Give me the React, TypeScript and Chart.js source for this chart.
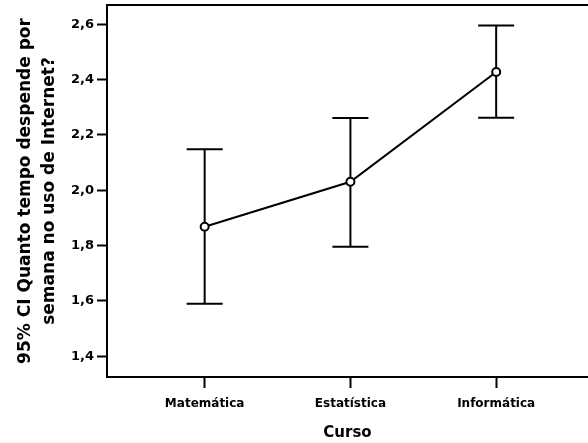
import React, { useEffect, useRef } from "react";
import { Chart, registerables } from "chart.js";

Chart.register(...registerables);

const categories = ["Matemática", "Estatística", "Informática"];
const means = [1.868, 2.031, 2.428];
const lowerCI = [1.59, 1.796, 2.262];
const upperCI = [2.148, 2.261, 2.596];
const yTicks = [1.4, 1.6, 1.8, 2.0, 2.2, 2.4, 2.6];
const xTicks = [0, 1, 2];
const yTitle = ["95% CI Quanto tempo despende por", "semana no uso de Internet?"];
const xTitle = "Curso";

const FONT = "'DejaVu Sans', 'Liberation Sans', Arial, sans-serif";

const errorBarPlugin = {
  id: "errorBars",
  beforeDatasetsDraw(chart: any) {
    const { ctx, scales } = chart;
    const x = scales.x;
    const y = scales.y;
    ctx.save();
    ctx.strokeStyle = "#000";
    ctx.lineWidth = 2;
    const cap = 18;
    for (let i = 0; i < means.length; i++) {
      const px = x.getPixelForValue(i);
      const pl = y.getPixelForValue(lowerCI[i]);
      const pu = y.getPixelForValue(upperCI[i]);
      ctx.beginPath();
      ctx.moveTo(px, pl);
      ctx.lineTo(px, pu);
      ctx.moveTo(px - cap, pl);
      ctx.lineTo(px + cap, pl);
      ctx.moveTo(px - cap, pu);
      ctx.lineTo(px + cap, pu);
      ctx.stroke();
    }
    ctx.restore();
  },
  afterDatasetsDraw(chart: any) {
    const { ctx, scales } = chart;
    ctx.save();
    ctx.strokeStyle = "#000";
    ctx.fillStyle = "#fff";
    ctx.lineWidth = 2;
    for (let i = 0; i < means.length; i++) {
      const px = scales.x.getPixelForValue(i);
      const py = scales.y.getPixelForValue(means[i]);
      ctx.beginPath();
      ctx.arc(px, py, 4, 0, Math.PI * 2);
      ctx.fill();
      ctx.stroke();
    }
    ctx.restore();
  },
  afterDraw(chart: any) {
    const { ctx, chartArea } = chart;
    ctx.save();
    ctx.strokeStyle = "#000";
    ctx.lineWidth = 2;
    ctx.beginPath();
    ctx.moveTo(chartArea.left, chartArea.top);
    ctx.lineTo(chart.width, chartArea.top);
    ctx.stroke();
    ctx.restore();
  },
};

export default function App() {
  const ref = useRef<HTMLCanvasElement | null>(null);
  useEffect(() => {
    if (!ref.current) return;
    const chart = new Chart(ref.current, {
      type: "line",
      data: {
        datasets: [
          {
            data: means.map((m, i) => ({ x: i, y: m })),
            borderColor: "#000",
            borderWidth: 2,
            pointRadius: 0,
            pointHoverRadius: 0,
            pointBorderWidth: 0,
            tension: 0,
          },
        ],
      },
      plugins: [errorBarPlugin],
      options: {
        responsive: false,
        animation: false,
        layout: { padding: { top: 5, right: 0, left: 0, bottom: 0 } },
        plugins: { legend: { display: false }, tooltip: { enabled: false } },
        scales: {
          x: {
            type: "linear",
            min: -0.67,
            max: 2.63,
            afterBuildTicks: (s: any) => {
              s.ticks = xTicks.map((v) => ({ value: v }));
            },
            afterFit: (s: any) => {
              s.height = 66;
              s.paddingLeft = 0;
              s.paddingRight = 0;
            },
            ticks: {
              autoSkip: false,
              maxRotation: 0,
              padding: 9,
              color: "#000",
              font: { family: FONT, size: 12, weight: "bold" },
              callback: (v: any) => categories[v as number] ?? "",
            },
            grid: {
              display: true,
              drawOnChartArea: false,
              drawTicks: true,
              tickLength: 11,
              tickWidth: 2,
              tickColor: "#000",
            },
            border: { display: true, color: "#000", width: 2 },
            title: {
              display: true,
              text: xTitle,
              color: "#000",
              font: { family: FONT, size: 15, weight: "bold" },
              padding: { top: 0, bottom: 1 },
            },
          },
          y: {
            type: "linear",
            min: 1.325,
            max: 2.67,
            afterBuildTicks: (s: any) => {
              s.ticks = yTicks.map((v) => ({ value: v }));
            },
            afterFit: (s: any) => {
              s.width = 107;
              s.paddingTop = 0;
              s.paddingBottom = 0;
            },
            ticks: {
              padding: 3,
              color: "#000",
              font: { family: FONT, size: 13, weight: "bold" },
              callback: (v: any) => Number(v).toFixed(1).replace(".", ","),
            },
            grid: {
              display: true,
              drawOnChartArea: false,
              drawTicks: true,
              tickLength: 10,
              tickWidth: 2,
              tickColor: "#000",
            },
            border: { display: true, color: "#000", width: 2 },
            title: {
              display: true,
              text: yTitle,
              color: "#000",
              font: { family: FONT, size: 17, weight: "bold", lineHeight: 1.4 },
              padding: { top: 14, bottom: 0 },
            },
          },
        },
      },
    });
    return () => chart.destroy();
  }, []);
  return (
    <div style={{ position: "fixed", left: 0, top: 0, width: 588, height: 443, background: "#fff" }}>
      <canvas ref={ref} width={588} height={443} />
    </div>
  );
}
